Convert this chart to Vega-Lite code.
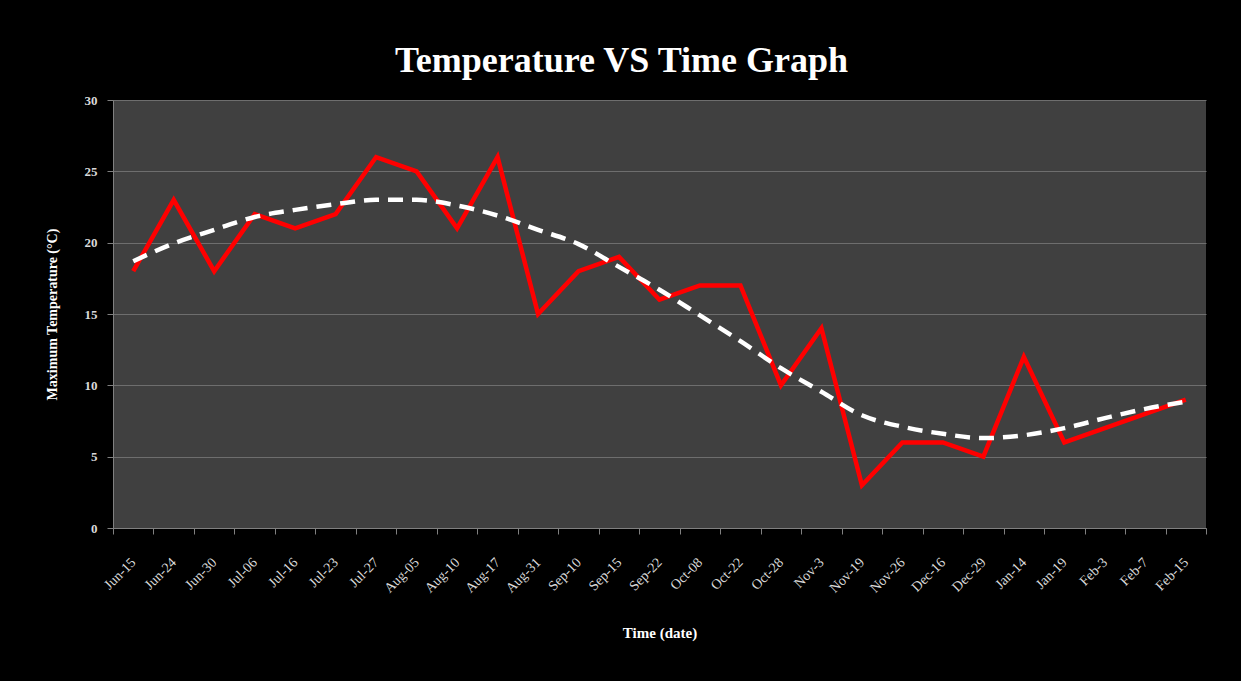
{
  "$schema": "https://vega.github.io/schema/vega-lite/v6.json",
  "width": 1093,
  "height": 428,
  "autosize": "none",
  "padding": {"left": 113, "top": 100, "right": 35, "bottom": 153},
  "background": "#000000",
  "title": {
    "text": "Temperature VS Time Graph",
    "font": "Liberation Serif",
    "fontSize": 36,
    "fontWeight": "bold",
    "color": "#ffffff",
    "anchor": "middle",
    "offset": 14,
    "dx": -38
  },
  "data": {
    "values": [
      {"date": "Jun-15", "max": 18, "trend": 18.7},
      {"date": "Jun-24", "max": 23, "trend": 19.95},
      {"date": "Jun-30", "max": 18, "trend": 20.9},
      {"date": "Jul-06", "max": 22, "trend": 21.8},
      {"date": "Jul-16", "max": 21, "trend": 22.3},
      {"date": "Jul-23", "max": 22, "trend": 22.7},
      {"date": "Jul-27", "max": 26, "trend": 23.0},
      {"date": "Aug-05", "max": 25, "trend": 23.0},
      {"date": "Aug-10", "max": 21, "trend": 22.6},
      {"date": "Aug-17", "max": 26, "trend": 21.9},
      {"date": "Aug-31", "max": 15, "trend": 20.9},
      {"date": "Sep-10", "max": 18, "trend": 19.9},
      {"date": "Sep-15", "max": 19, "trend": 18.3},
      {"date": "Sep-22", "max": 16, "trend": 16.7},
      {"date": "Oct-08", "max": 17, "trend": 14.9},
      {"date": "Oct-22", "max": 17, "trend": 13.1},
      {"date": "Oct-28", "max": 10, "trend": 11.2},
      {"date": "Nov-3", "max": 14, "trend": 9.55},
      {"date": "Nov-19", "max": 3, "trend": 7.9},
      {"date": "Nov-26", "max": 6, "trend": 7.1},
      {"date": "Dec-16", "max": 6, "trend": 6.6},
      {"date": "Dec-29", "max": 5, "trend": 6.3},
      {"date": "Jan-14", "max": 12, "trend": 6.5},
      {"date": "Jan-19", "max": 6, "trend": 7.0},
      {"date": "Feb-3", "max": 7, "trend": 7.7},
      {"date": "Feb-7", "max": 8, "trend": 8.35},
      {"date": "Feb-15", "max": 9, "trend": 8.85}
    ]
  },
  "encoding": {
    "x": {
      "field": "date",
      "type": "nominal",
      "sort": null,
      "scale": {"paddingInner": 0, "paddingOuter": 0},
      "axis": {
        "title": "Time (date)",
        "titleFont": "Liberation Serif",
        "titleFontSize": 15,
        "titleFontWeight": "bold",
        "titleColor": "#ffffff",
        "titlePadding": 30,
        "labelAngle": -45,
        "labelAlign": "right",
        "labelBaseline": "middle",
        "labelFont": "Liberation Serif",
        "labelFontSize": 14,
        "labelColor": "#d9d9d9",
        "labelPadding": 26,
        "tickBand": "extent",
        "tickSize": 6,
        "tickColor": "#808080",
        "domainColor": "#808080",
        "grid": false
      }
    }
  },
  "layer": [
    {
      "mark": {"type": "line", "color": "#ff0000", "strokeWidth": 4.5, "strokeJoin": "miter"},
      "encoding": {
        "y": {
          "field": "max",
          "type": "quantitative",
          "scale": {"domain": [0, 30], "nice": false},
          "axis": {
            "title": "Maximum Temperature (°C)",
            "titleFont": "Liberation Serif",
            "titleFontSize": 14,
            "titleFontWeight": "bold",
            "titleColor": "#ffffff",
            "titlePadding": 25,
            "values": [0, 5, 10, 15, 20, 25, 30],
            "labelFont": "Liberation Serif",
            "labelFontSize": 13,
            "labelFontWeight": "bold",
            "labelColor": "#d9d9d9",
            "labelPadding": 10,
            "tickSize": 6,
            "tickColor": "#808080",
            "domainColor": "#808080",
            "gridColor": "#6e6e6e",
            "gridWidth": 1
          }
        }
      }
    },
    {
      "mark": {"type": "line", "color": "#ffffff", "strokeWidth": 4.5, "strokeDash": [15, 9], "interpolate": "monotone"},
      "encoding": {
        "y": {"field": "trend", "type": "quantitative"}
      }
    }
  ],
  "config": {
    "view": {"fill": "#404040", "stroke": null}
  }
}
